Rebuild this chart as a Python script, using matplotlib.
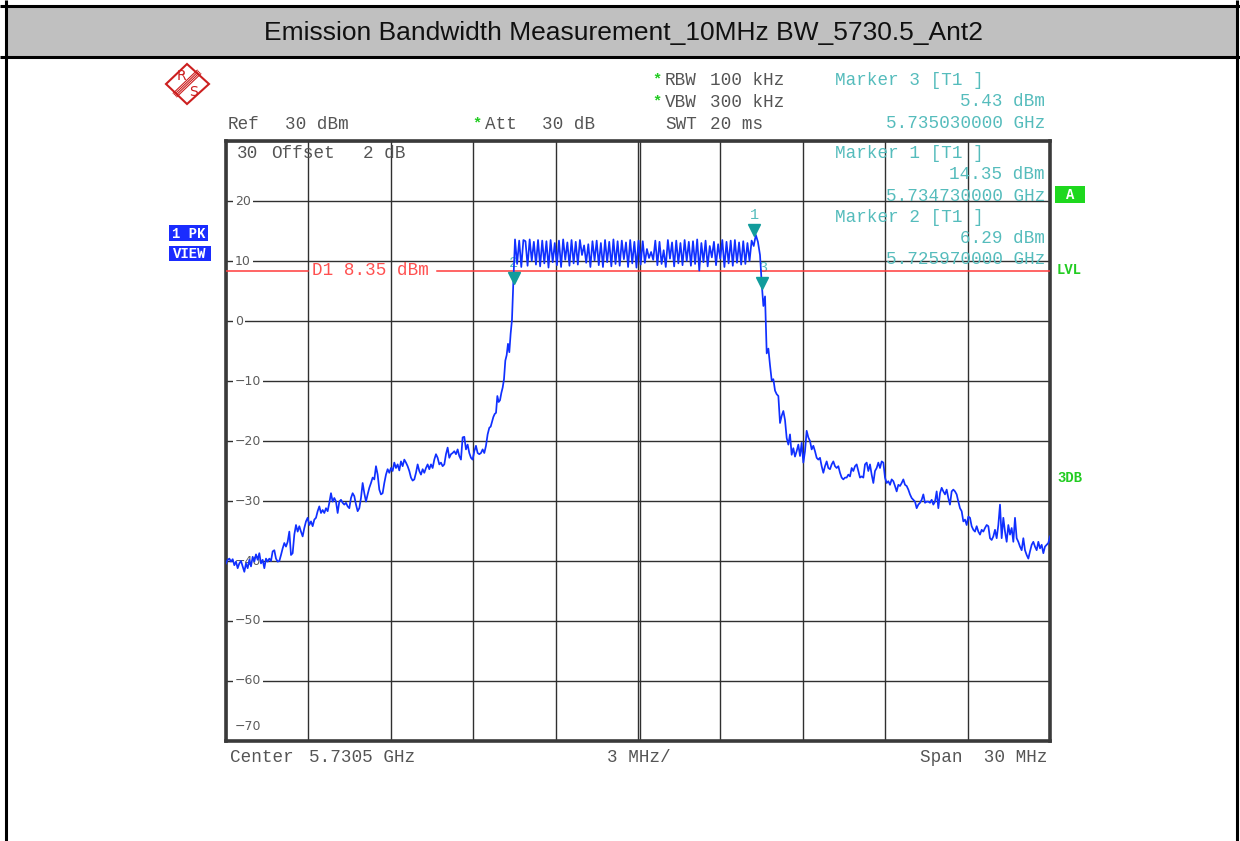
import matplotlib
matplotlib.use("Agg")
import matplotlib.pyplot as plt
import numpy as np
from matplotlib.patches import Polygon, Rectangle
from matplotlib.transforms import blended_transform_factory, offset_copy

# sweep settings
center_mhz = 5730.5
span_mhz = 30.0
ref_level_dbm = 30
bottom_dbm = -70

# trace levels (dBm), five stretches with uniform spacing each
left_skirt_dbm = [
    -40.4, -39.8, -39.6, -40.1, -39.7, -40.7, -40.1, -41.2, -40.4, -40.0,
    -40.9, -41.8, -40.4, -41.2, -39.8, -40.9, -39.3, -40.1, -38.9, -39.8,
    -38.7, -40.4, -39.8, -41.2, -39.6, -40.1, -39.6, -40.0, -38.4, -38.2,
    -39.6, -40.1, -40.0, -39.0, -37.9, -37.0, -37.6, -36.8, -35.1, -39.0,
    -38.7, -35.6, -34.0, -35.1, -34.2, -35.1, -35.9, -34.5, -33.4, -32.8,
    -34.0, -33.4, -34.2, -33.1, -32.8, -31.7, -30.9, -32.0, -31.5, -32.0,
    -31.2, -31.7, -30.3, -28.7, -30.1, -29.5, -30.1, -32.0, -30.1, -29.8,
    -30.3, -30.6, -30.3, -30.9, -31.2, -29.5, -28.7, -29.2, -30.6, -31.7,
    -31.2, -29.5, -27.0, -28.7, -30.1, -28.9, -27.8, -27.0, -26.1, -26.4,
    -24.2, -25.6, -28.1, -28.9, -28.7, -27.0, -25.6, -24.7, -25.3, -24.5,
    -25.0, -23.6, -24.5, -23.9, -24.9, -23.4, -24.2, -23.1, -23.6, -24.2,
    -25.0, -26.1, -26.6, -26.4, -25.3, -23.9, -25.0, -25.6, -24.7, -25.3,
    -24.5, -23.9, -24.7, -23.9, -24.5, -23.1, -22.2, -22.8, -23.9, -23.6,
    -24.2, -23.9, -22.2, -21.1, -22.8, -22.2, -22.0, -21.7, -22.2, -21.4,
    -22.5, -23.1, -19.4, -19.3, -21.4, -20.6, -22.0, -22.8, -23.1, -21.7,
    -20.8, -22.0, -22.2, -22.0, -21.4, -22.0, -20.8, -18.9, -17.8,
]
left_edge_dbm = [
    -17.6, -16.8, -16.0, -15.5, -15.3, -12.5, -13.5, -13.2, -12.0, -11.1,
    -9.7, -6.6, -5.7, -3.8, -5.2, -2.1, 0.2, 6.3,
]
channel_top_dbm = [
    13.6, 9.5, 13.4, 9.0, 13.5,
    13.3, 9.2, 13.6, 10.0, 13.2, 9.4, 13.5, 9.1,
    13.4, 9.6, 13.3, 8.9, 13.5, 9.8, 13.0, 9.3,
    13.4, 9.0, 13.6, 10.2, 13.1, 9.2, 13.5, 9.6,
    13.2, 9.4, 13.5, 11.0, 12.6, 9.7, 12.8, 9.0,
    13.3, 10.1, 13.4, 9.3, 13.0, 9.0, 13.5, 9.8,
    13.2, 9.1, 13.6, 9.5, 13.3, 9.2, 13.4, 10.3,
    13.1, 9.0, 13.5, 9.6, 13.2, 8.9, 13.4, 9.4,
    13.3, 9.7, 12.0, 10.5, 11.5, 10.2, 13.4, 9.3,
    13.2, 9.5, 11.8, 9.0, 13.5, 10.4, 13.1, 9.1,
    13.4, 9.6, 13.0, 9.3, 13.5, 10.0, 13.2, 9.2,
    13.3, 9.5, 13.6, 8.4, 13.0, 9.8, 13.4, 9.1,
    12.5, 10.6, 13.2, 9.3, 12.8, 10.4, 13.5, 9.0,
    13.2, 9.6, 13.4, 9.2, 13.5, 9.7, 13.1, 9.4,
    13.3, 9.5, 13.0, 10.0, 13.4, 12.5, 14.35, 13.2,
    11.0,
]
right_edge_dbm = [
    6.3, 2.5, 4.1, -5.4, -4.6, -7.4, -9.9, -9.7, -11.6, -12.2,
    -12.5, -17.0, -15.8, -15.0, -16.5, -19.5, -20.6, -18.9, -22.3, -21.2,
    -22.6, -21.7, -20.6,
]
right_skirt_dbm = [
    -22.5, -20.3, -23.6, -21.7, -18.3, -19.4, -20.0, -21.4, -20.8, -21.7,
    -22.8, -23.1, -22.8, -24.2, -25.3, -24.2, -23.4, -24.5, -24.7, -23.9,
    -23.4, -24.2, -24.5, -24.2, -25.3, -26.1, -26.4, -26.1, -26.1, -25.6,
    -25.9, -24.5, -25.0, -24.2, -23.9, -25.0, -26.1, -25.9, -26.1, -23.9,
    -23.6, -25.0, -23.9, -25.6, -27.0, -25.0, -24.5, -23.6, -24.5, -23.4,
    -23.6, -26.1, -27.0, -26.7, -27.3, -26.4, -26.7, -27.5, -28.4, -27.3,
    -27.5, -27.0, -26.4, -27.3, -27.5, -28.1, -28.9, -29.5, -29.8, -30.1,
    -31.2, -30.6, -30.3, -29.8, -28.9, -30.3, -30.1, -30.1, -30.3, -29.8,
    -30.6, -30.1, -28.4, -31.2, -28.7, -27.8, -28.4, -28.9, -28.1, -29.5,
    -30.6, -28.4, -28.1, -28.4, -28.9, -30.1, -31.2, -31.7, -33.4, -33.1,
    -34.0, -32.6, -32.8, -34.2, -34.8, -35.1, -34.2, -35.1, -35.6, -34.8,
    -35.1, -34.5, -34.0, -34.2, -36.2, -36.5, -35.9, -34.8, -36.2, -34.0,
    -30.6, -36.2, -32.8, -35.1, -36.8, -34.0, -35.6, -34.5, -36.8, -32.8,
    -36.2, -36.8, -37.6, -38.2, -36.2, -38.2, -39.0, -39.6, -38.4, -37.3,
    -36.8, -37.6, -38.2, -36.8, -37.9, -37.3, -38.7, -37.6, -37.3, -37.0,
    -35.9,
]
stretches = [left_skirt_dbm, left_edge_dbm, channel_top_dbm, right_edge_dbm, right_skirt_dbm]
# first / last frequency (MHz) of each stretch
stretch_mhz = [(5715.500, 5725.086), (5725.137, 5725.960), (5726.022, 5734.942),
               (5735.004, 5736.337), (5736.398, 5745.500)]

marker_ids = ["1", "2", "3"]
marker_mhz = [5734.730, 5725.970, 5735.030]
marker_dbm = [14.35, 6.29, 5.43]
display_line_dbm = 8.35
y_labels = [20, 10, 0, -10, -20, -30, -40, -50, -60]

title = "Emission Bandwidth Measurement_10MHz BW_5730.5_Ant2"
MONO = "Liberation Mono"
GRAY = "#555555"
TEAL = "#55bcbc"
GREEN = "#22cc22"

W, H = 1240, 841
fig = plt.figure(figsize=(W / 100, H / 100), dpi=100)
fig.patch.set_facecolor("white")

# ---- screen grid
ax = fig.add_axes([226 / W, 1 - 741 / H, 824 / W, 600 / H])
ax.set_xlim(center_mhz - span_mhz / 2, center_mhz + span_mhz / 2)
ax.set_ylim(bottom_dbm, ref_level_dbm)
ax.set_xticks(np.linspace(center_mhz - span_mhz / 2, center_mhz + span_mhz / 2, 11))
ax.set_yticks(np.arange(bottom_dbm, ref_level_dbm + 1, 10))
ax.tick_params(length=0, labelbottom=False, labelleft=False)
ax.grid(True, color="#303030", lw=1.0)
ax.set_axisbelow(True)
for sp in ax.spines.values():
    sp.set_linewidth(2.6)
    sp.set_color("#3a3a3a")
ax.axvline(center_mhz + 0.07, color="#303030", lw=1.0, zorder=0.6)

freqs = np.concatenate([np.linspace(a, b, len(lv)) for (a, b), lv in zip(stretch_mhz, stretches)])
levels = np.concatenate(stretches)
ax.plot(freqs, levels, color="#1030ff", lw=1.25, zorder=3)

blend = blended_transform_factory(ax.transAxes, ax.transData)
lab_x = (235 - 226) / 824
for v in y_labels:
    ax.text(lab_x, v, str(v).replace("-", "\u2212"), transform=blend, ha="left", va="center",
            fontsize=9, color="#5c5c5c", zorder=2.5,
            bbox=dict(fc="white", ec="none", pad=1.3))
ax.annotate(str(bottom_dbm).replace("-", "\u2212"), xy=(lab_x, bottom_dbm), xycoords=blend,
            xytext=(0, 14), textcoords="offset pixels", ha="left", va="center",
            fontsize=9, color="#5c5c5c")

# display line D1
ax.axhline(display_line_dbm, xmin=0, xmax=0.1, color="#ff3b3b", lw=1.1, zorder=2.8)
ax.axhline(display_line_dbm, xmin=0.256, xmax=1, color="#ff3b3b", lw=1.1, zorder=2.8)
ax.text((312 - 226) / 824, display_line_dbm, f"D1 {display_line_dbm:.2f} dBm", transform=blend,
        ha="left", va="center", fontfamily=MONO, fontsize=12.7, color="#ff5050")

# markers
tri = offset_copy(ax.transData, fig=fig, x=0, y=5, units="dots")
ax.plot(marker_mhz, marker_dbm, ls="none", marker="v", ms=8, color="#119c9c",
        transform=tri, zorder=4)
for mid, f, lv in zip(marker_ids, marker_mhz, marker_dbm):
    ax.annotate(mid, xy=(f, lv), xytext=(0, 20), textcoords="offset pixels", ha="center",
                va="center", fontfamily=MONO, fontsize=11, color=TEAL, zorder=2)

# ---- overlay in pixel coordinates for the screen furniture
ov = fig.add_axes([0, 0, 1, 1], zorder=5)
ov.set_xlim(0, W)
ov.set_ylim(H, 0)
ov.axis("off")
ov.patch.set_alpha(0)

ov.add_patch(Rectangle((5, 6), 1232, 51, fc="#c0c0c0", ec="none"))
for xs, ys in [([0, W], [6, 6]), ([0, W], [57, 57]), ([6, 6], [0, H]), ([1237, 1237], [0, H])]:
    ov.plot(xs, ys, color="black", lw=2.2, solid_capstyle="butt")
ov.text(623, 33, title, ha="center", va="center", fontfamily="Liberation Sans", fontsize=19,
        color="#111111")


def mono(x, y, s, color=GRAY, ha="left", size=12.7, weight="normal"):
    ov.text(x, y, s, ha=ha, va="center", fontfamily=MONO, fontsize=size, color=color,
            fontweight=weight)


# R&S logo
ov.add_patch(Polygon([(166, 84), (187, 64), (209, 84), (187, 104)], closed=True, fill=False,
                     ec="#cc1f1f", lw=1.5))
for o in (-1.8, -0.6, 0.6, 1.8):
    ov.plot([175 + o, 199 + o], [95 + o, 72 + o], color="#cc1f1f", lw=0.8)
ov.text(181, 76, "R", ha="center", va="center", fontsize=10, color="#cc1f1f")
ov.text(194, 92, "S", ha="center", va="center", fontsize=10, color="#cc1f1f")

# settings header
mono(228, 124, "Ref")
mono(285, 124, f"{ref_level_dbm} dBm")
mono(472, 123, "*", color=GREEN, size=11, weight="bold")
mono(485, 124, "Att")
mono(542, 124, "30 dB")
mono(652, 79, "*", color=GREEN, size=11, weight="bold")
mono(665, 80, "RBW")
mono(710, 80, "100 kHz")
mono(652, 101.5, "*", color=GREEN, size=11, weight="bold")
mono(665, 102.5, "VBW")
mono(710, 102.5, "300 kHz")
mono(665, 124, "SWT")
mono(710, 124, "20 ms")
mono(237, 153, str(ref_level_dbm))
mono(271, 153, "Offset")
mono(363, 153, "2 dB")

# marker readouts (3 on top, then 1 and 2)
rows = [(2, 80), (0, 153), (1, 217)]
for i, y0 in rows:
    mono(835, y0, f"Marker {marker_ids[i]} [T1 ]", color=TEAL)
    mono(1045, y0 + 21.5, f"{marker_dbm[i]:.2f} dBm", color=TEAL, ha="right")
    mono(1045, y0 + 43, f"{marker_mhz[i] / 1000:.9f} GHz", color=TEAL, ha="right")

# side badges
ov.add_patch(Rectangle((169, 225), 39, 16, fc="#1a2cff", ec="none"))
mono(188.5, 233.5, "1 PK", color="white", ha="center", size=10, weight="bold")
ov.add_patch(Rectangle((169, 245.5), 42, 15.5, fc="#1a2cff", ec="none"))
mono(190, 253.5, "VIEW", color="white", ha="center", size=10, weight="bold")
ov.add_patch(Rectangle((1055, 186), 30, 17, fc="#1ed81e", ec="none"))
mono(1070, 195, "A", color="white", ha="center", size=10, weight="bold")
mono(1057, 270, "LVL", color=GREEN, size=10, weight="bold")
mono(1057, 478, "3DB", color=GREEN, size=10, weight="bold")

# footer
mono(230, 757, "Center")
mono(309, 757, f"{center_mhz / 1000:.4f} GHz")
mono(607, 757, "3 MHz/")
mono(1047, 757, f"Span  {span_mhz:.0f} MHz", ha="right")

fig.savefig("out.png", dpi=100)
